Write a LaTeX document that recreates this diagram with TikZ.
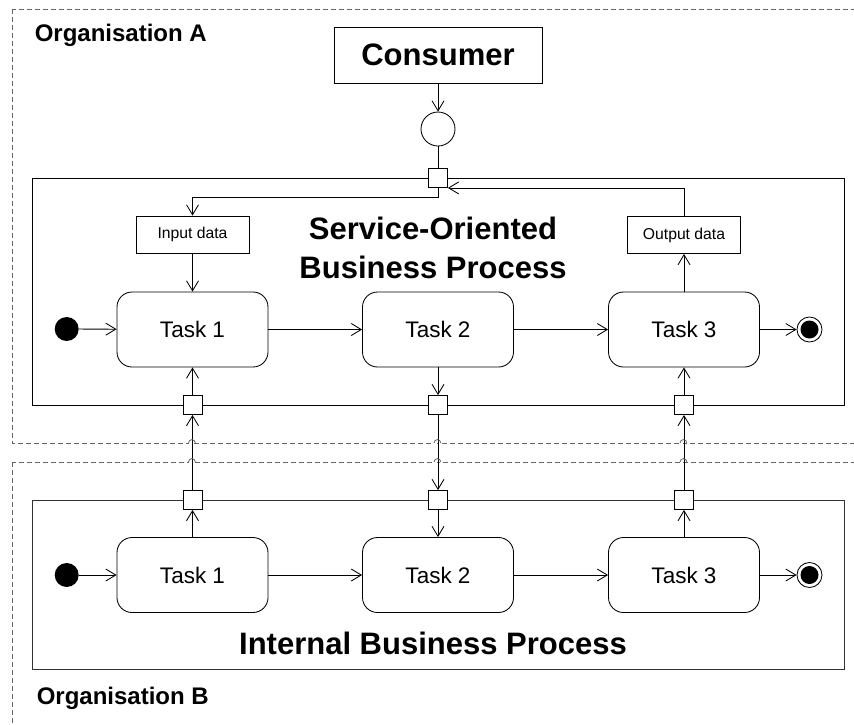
\documentclass[tikz,border=0pt]{standalone}
\usepackage{fontspec}
\setmainfont{Liberation Sans}
\usetikzlibrary{arrows.meta}

\tikzset{
    task/.style={draw, fill=white, rounded corners=15pt, minimum width=151pt, minimum height=75pt, inner sep=0pt, font=\fontsize{22.5}{27}\selectfont},
    databox/.style={draw, fill=white, minimum width=113pt, minimum height=37pt, inner sep=0pt, font=\fontsize{15.7}{19}\selectfont},
    port/.style={draw, fill=white, minimum size=19pt, inner sep=0pt},
    startdot/.style={circle, fill=black, minimum size=24pt, inner sep=0pt},
    enddot/.style={circle, draw, fill=white, minimum size=25pt, inner sep=0pt,
        path picture={\fill[black] (path picture bounding box.center) circle (9pt);}},
    bigtext/.style={font=\fontsize{31}{39}\selectfont\bfseries},
    orgtext/.style={anchor=west, font=\fontsize{24}{28}\selectfont\bfseries},
    arr/.style={-{Straight Barb[length=10pt,width=12pt]}},
    orgline/.style={dashed, dash pattern=on 5pt off 3pt, draw=black!60},
}

\begin{document}
\begin{tikzpicture}[x=1pt, y=-1pt, line width=0.85pt]
    \clip (0,0) rectangle (854,724);

    % Organisations
    \draw[orgline] (12,9) rectangle (880,443);
    \draw[orgline] (12,462) rectangle (880,760);
    \node[orgtext] (orgA) at (31,35) {Organisation A};
    \node[orgtext] (orgB) at (33,698) {Organisation B};

    % Process frames
    \draw (32,178) rectangle (844,405);
    \draw[black!80] (32,500) rectangle (844,669);
    \node[bigtext, align=center] (sobp) at (433,248) {Service-Oriented\\Business Process};
    \node[bigtext] (ibp) at (433,643) {Internal Business Process};

    % Consumer and interface
    \node[draw, fill=white, bigtext, minimum width=208pt, minimum height=56pt, inner sep=0pt] (consumer) at (438,55) {Consumer};
    \node[circle, draw, minimum size=34pt, inner sep=0pt] (iface) at (438,129) {};
    \node[port] (ptop) at (438,178) {};

    % Data
    \node[databox] (input) at (192.5,234.5) {Input data};
    \node[databox] (output) at (684,235) {Output data};

    % Service-oriented process
    \node[startdot] (s1) at (66.7,329) {};
    \node[task] (a1) at (192.5,329.5) {Task 1};
    \node[task] (a2) at (438,329.5) {Task 2};
    \node[task] (a3) at (684,329.5) {Task 3};
    \node[enddot] (e1) at (809.5,329.5) {};

    % Internal process
    \node[startdot] (s2) at (66.7,575) {};
    \node[task] (b1) at (192.5,575) {Task 1};
    \node[task] (b2) at (438,575) {Task 2};
    \node[task] (b3) at (684,575) {Task 3};
    \node[enddot] (e2) at (809.5,575) {};

    % Ports
    \node[port] (pa1) at (192.5,405) {};
    \node[port] (pa2) at (438,405) {};
    \node[port] (pa3) at (684,405) {};
    \node[port] (pb1) at (192.5,500) {};
    \node[port] (pb2) at (438,500) {};
    \node[port] (pb3) at (684,500) {};

    % Control flow
    \draw[arr] (s1) -- (a1);
    \draw[arr] (a1) -- (a2);
    \draw[arr] (a2) -- (a3);
    \draw[arr] (a3) -- (e1);
    \draw[arr] (s2) -- (b1);
    \draw[arr] (b1) -- (b2);
    \draw[arr] (b2) -- (b3);
    \draw[arr] (b3) -- (e2);

    % Consumer interface
    \coordinate (bend) at (438,197);
    \draw[arr] (consumer) -- (iface);
    \draw (iface) -- (ptop);
    \draw[arr] (ptop.south) -- (bend) -| (input.north);
    \draw[arr] (input) -- (a1);
    \draw[arr] (a3) -- (output);
    \draw[arr] (output.north) |- (ptop.south east);

    % Links between the processes
    \draw[arr] (b1) -- (pb1);
    \draw[arr] (pb1) -- (pa1);
    \draw[arr] (pa1) -- (a1);
    \draw[arr] (a2) -- (pa2);
    \draw[arr] (pa2) -- (pb2);
    \draw[arr] (pb2) -- (b2);
    \draw[arr] (b3) -- (pb3);
    \draw[arr] (pb3) -- (pa3);
    \draw[arr] (pa3) -- (a3);

    % Line jumps
    \foreach \x in {192.5,438,684}
        \foreach \y in {443,462} {
            \fill[white] (\x-4,\y-1) rectangle (\x-0.6,\y+1);
            \draw[black!60, line width=0.8pt] (\x-4,\y) arc (180:360:3.4);
        }
\end{tikzpicture}
\end{document}
